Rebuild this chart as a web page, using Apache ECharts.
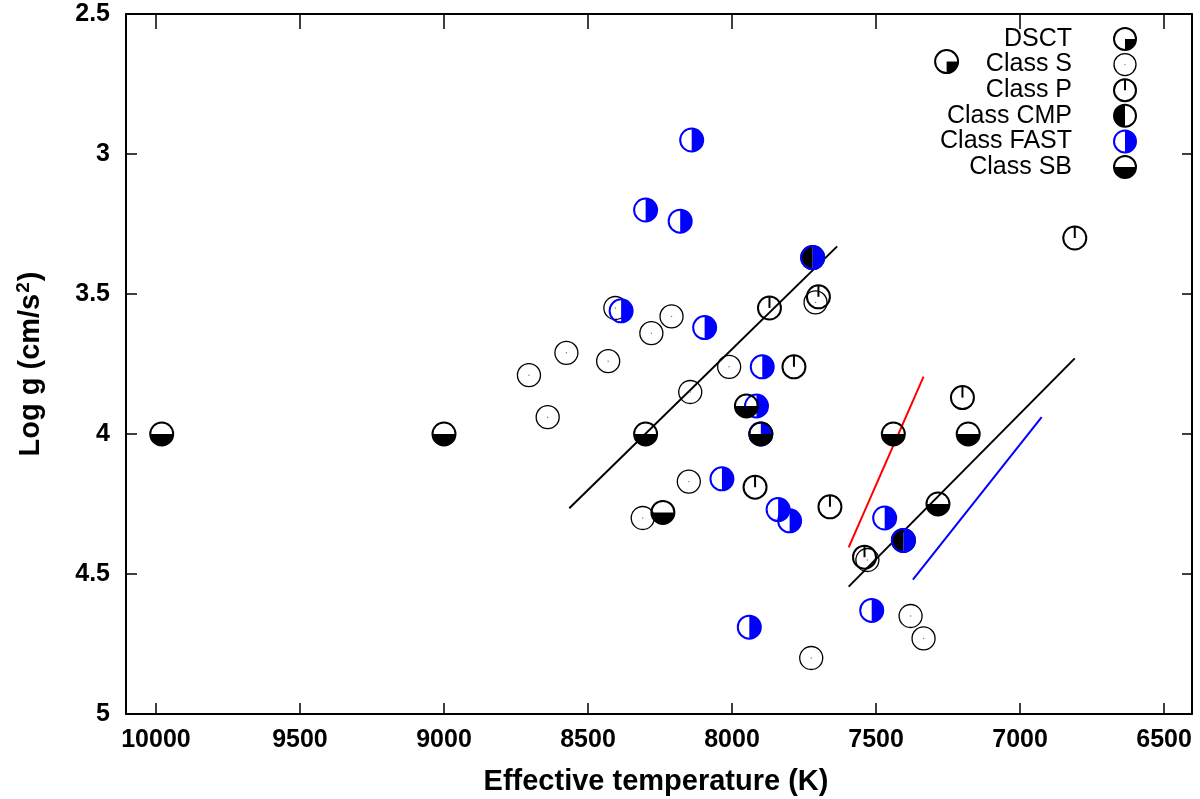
<!DOCTYPE html>
<html>
<head>
<meta charset="utf-8">
<script src="https://cdn.jsdelivr.net/npm/echarts@6/dist/echarts.min.js"></script>
<style>
  html, body { margin: 0; padding: 0; background: #fff; }
  #chart { width: 1200px; height: 799px; }
</style>
</head>
<body>
<div id="chart"></div>
<script>
// ---- data (Teff [K], log g) ----
const xTicks = [6500, 7000, 7500, 8000, 8500, 9000, 9500, 10000];
const yTicks = [2.5, 3, 3.5, 4, 4.5, 5];

const sData = [[8405,3.55],[8210,3.58],[8280,3.64],[8705,3.79],[8575,3.71],[8430,3.74],[8640,3.94],[8010,3.76],[8145,3.85],[7710,3.53],[8150,4.17],[8310,4.30],[7530,4.45],[7380,4.65],[7335,4.73],[7725,4.80]];
const pData = [[7870,3.55],[7700,3.51],[7785,3.76],[7200,3.87],[7920,4.19],[7660,4.26],[7540,4.44],[6810,3.30]];
const cmpData = [[7720,3.37],[7405,4.38]];
const fastData = [[8140,2.95],[8300,3.20],[8180,3.24],[7720,3.37],[8385,3.56],[8095,3.62],[7895,3.76],[7915,3.90],[7900,4.00],[8035,4.16],[7840,4.27],[7800,4.31],[7470,4.30],[7405,4.38],[7515,4.63],[7940,4.69]];
const sbData = [[9980,4.00],[9000,4.00],[8300,4.00],[7950,3.90],[7900,4.00],[7440,4.00],[7180,4.00],[8240,4.28],[7285,4.25]];
const dsctData = [[7255,2.67]];

const fitLine1 = [[8565,4.265],[7635,3.33]];
const fitLine2 = [[7595,4.545],[6810,3.73]];
const redLine = [[7595,4.405],[7335,3.795]];
const blueLine = [[7372,4.52],[6925,3.94]];

const legendNames = ['DSCT', 'Class S', 'Class P', 'Class CMP', 'Class FAST', 'Class SB'];
const legendTypes = ['dsct', 's', 'p', 'cmp', 'fast', 'sb'];

// ---- styles ----
const BLUE = '#0000ff';
const FONT = '"Liberation Sans", Arial, Helvetica, sans-serif';
const R = 11.5;

function markerShapes(type, x, y, r) {
  const out = [];
  const PI = Math.PI;
  function sector(a0, a1, color) {
    out.push({ type: 'sector', shape: { cx: x, cy: y, r: r, r0: 0, startAngle: a0, endAngle: a1, clockwise: true },
               style: { fill: color, stroke: null } });
  }
  function ring(color, lw) {
    out.push({ type: 'circle', shape: { cx: x, cy: y, r: r }, style: { fill: null, stroke: color, lineWidth: lw } });
  }
  if (type === 's') {
    ring('#000', 1.3);
    out.push({ type: 'circle', shape: { cx: x, cy: y, r: 0.7 }, style: { fill: '#777', stroke: null } });
  } else if (type === 'p') {
    ring('#000', 2);
    out.push({ type: 'line', shape: { x1: x, y1: y - r, x2: x, y2: y }, style: { stroke: '#000', lineWidth: 2 } });
  } else if (type === 'cmp') {
    sector(PI / 2, 3 * PI / 2, '#000');
    ring('#000', 2);
  } else if (type === 'fast') {
    sector(-PI / 2, PI / 2, BLUE);
    ring(BLUE, 2);
  } else if (type === 'sb') {
    sector(0, PI, '#000');
    ring('#000', 2);
  } else if (type === 'dsct') {
    sector(0, PI / 2, '#000');
    ring('#000', 2);
  }
  return out;
}

function markerSeries(name, data, type, z) {
  return {
    name: name, type: 'custom', data: data, z: z, silent: true,
    renderItem: function (params, api) {
      const p = api.coord([api.value(0), api.value(1)]);
      return { type: 'group', children: markerShapes(type, p[0], p[1], R) };
    }
  };
}

function lineSeries(data, color) {
  return { type: 'line', data: data, showSymbol: false, symbol: 'none', silent: true, z: 2,
           lineStyle: { color: color, width: 2 } };
}

// legend built from graphic elements
const legendGraphics = [];
legendNames.forEach(function (nm, i) {
  const cy = 39 + i * 25.6;
  legendGraphics.push({ type: 'text', x: 1072, y: cy, z: 100,
    style: { text: nm, fill: '#000', font: '25px ' + FONT, align: 'right', verticalAlign: 'middle' } });
  legendGraphics.push({ type: 'group', z: 100, children: markerShapes(legendTypes[i], 1125, cy, 11) });
});

const axisCommonX = {
  type: 'value', inverse: true, min: 6403, max: 10104,
  splitLine: { show: false },
  axisLine: { show: true, lineStyle: { color: '#000', width: 2 } }
};
const axisCommonY = {
  type: 'value', inverse: true, min: 2.5, max: 5, interval: 0.5,
  splitLine: { show: false },
  axisLine: { show: true, lineStyle: { color: '#000', width: 2 } }
};

const option = {
  backgroundColor: '#fff',
  animation: false,
  grid: { left: 126, right: 8, top: 14, bottom: 85, containLabel: false },
  xAxis: [
    Object.assign({}, axisCommonX, {
      position: 'bottom',
      axisTick: { show: true, inside: true, length: 11, lineStyle: { color: '#000', width: 1.5 }, customValues: xTicks },
      axisLabel: { show: true, margin: 14, color: '#000', fontSize: 25, fontWeight: 'bold', fontFamily: FONT, customValues: xTicks,
                   formatter: function (v) { return String(Math.round(v)); } }
    }),
    Object.assign({}, axisCommonX, {
      position: 'top',
      axisTick: { show: true, inside: true, length: 15, lineStyle: { color: '#000', width: 1.5 }, customValues: xTicks },
      axisLabel: { show: false }
    })
  ],
  yAxis: [
    Object.assign({}, axisCommonY, {
      position: 'left',
      axisTick: { show: true, inside: true, length: 11, lineStyle: { color: '#000', width: 1.5 } },
      axisLabel: { show: true, margin: 16, color: '#000', fontSize: 25, fontWeight: 'bold', fontFamily: FONT,
                   formatter: function (v) { return String(v); } }
    }),
    Object.assign({}, axisCommonY, {
      position: 'right',
      axisTick: { show: true, inside: true, length: 10, lineStyle: { color: '#000', width: 1.5 } },
      axisLabel: { show: false }
    })
  ],
  graphic: [
    { type: 'text', x: 656, y: 782, z: 100,
      style: { text: 'Effective temperature (K)', fill: '#000', font: 'bold 29px ' + FONT, align: 'center', verticalAlign: 'middle' } },
    { type: 'text', x: 31, y: 364, rotation: Math.PI / 2, z: 100,
      style: { text: 'Log g (cm/s{sup|2})', fill: '#000', font: 'bold 29px ' + FONT, align: 'center', verticalAlign: 'middle',
               lineHeight: 34,
               rich: { sup: { fontSize: 19, fontWeight: 'bold', fontFamily: FONT, fill: '#000', verticalAlign: 'top', lineHeight: 34, padding: [0, 1, 12, 1] } } } }
  ].concat(legendGraphics),
  series: [
    lineSeries(fitLine1, '#000'),
    lineSeries(fitLine2, '#000'),
    lineSeries(redLine, '#ff0000'),
    lineSeries(blueLine, BLUE),
    markerSeries('Class S', sData, 's', 10),
    markerSeries('Class P', pData, 'p', 11),
    markerSeries('Class CMP', cmpData, 'cmp', 12),
    markerSeries('Class FAST', fastData, 'fast', 13),
    markerSeries('Class SB', sbData, 'sb', 14),
    markerSeries('DSCT', dsctData, 'dsct', 15)
  ]
};

const chart = echarts.init(document.getElementById('chart'), null, { renderer: 'canvas' });
chart.setOption(option);
</script>
</body>
</html>
